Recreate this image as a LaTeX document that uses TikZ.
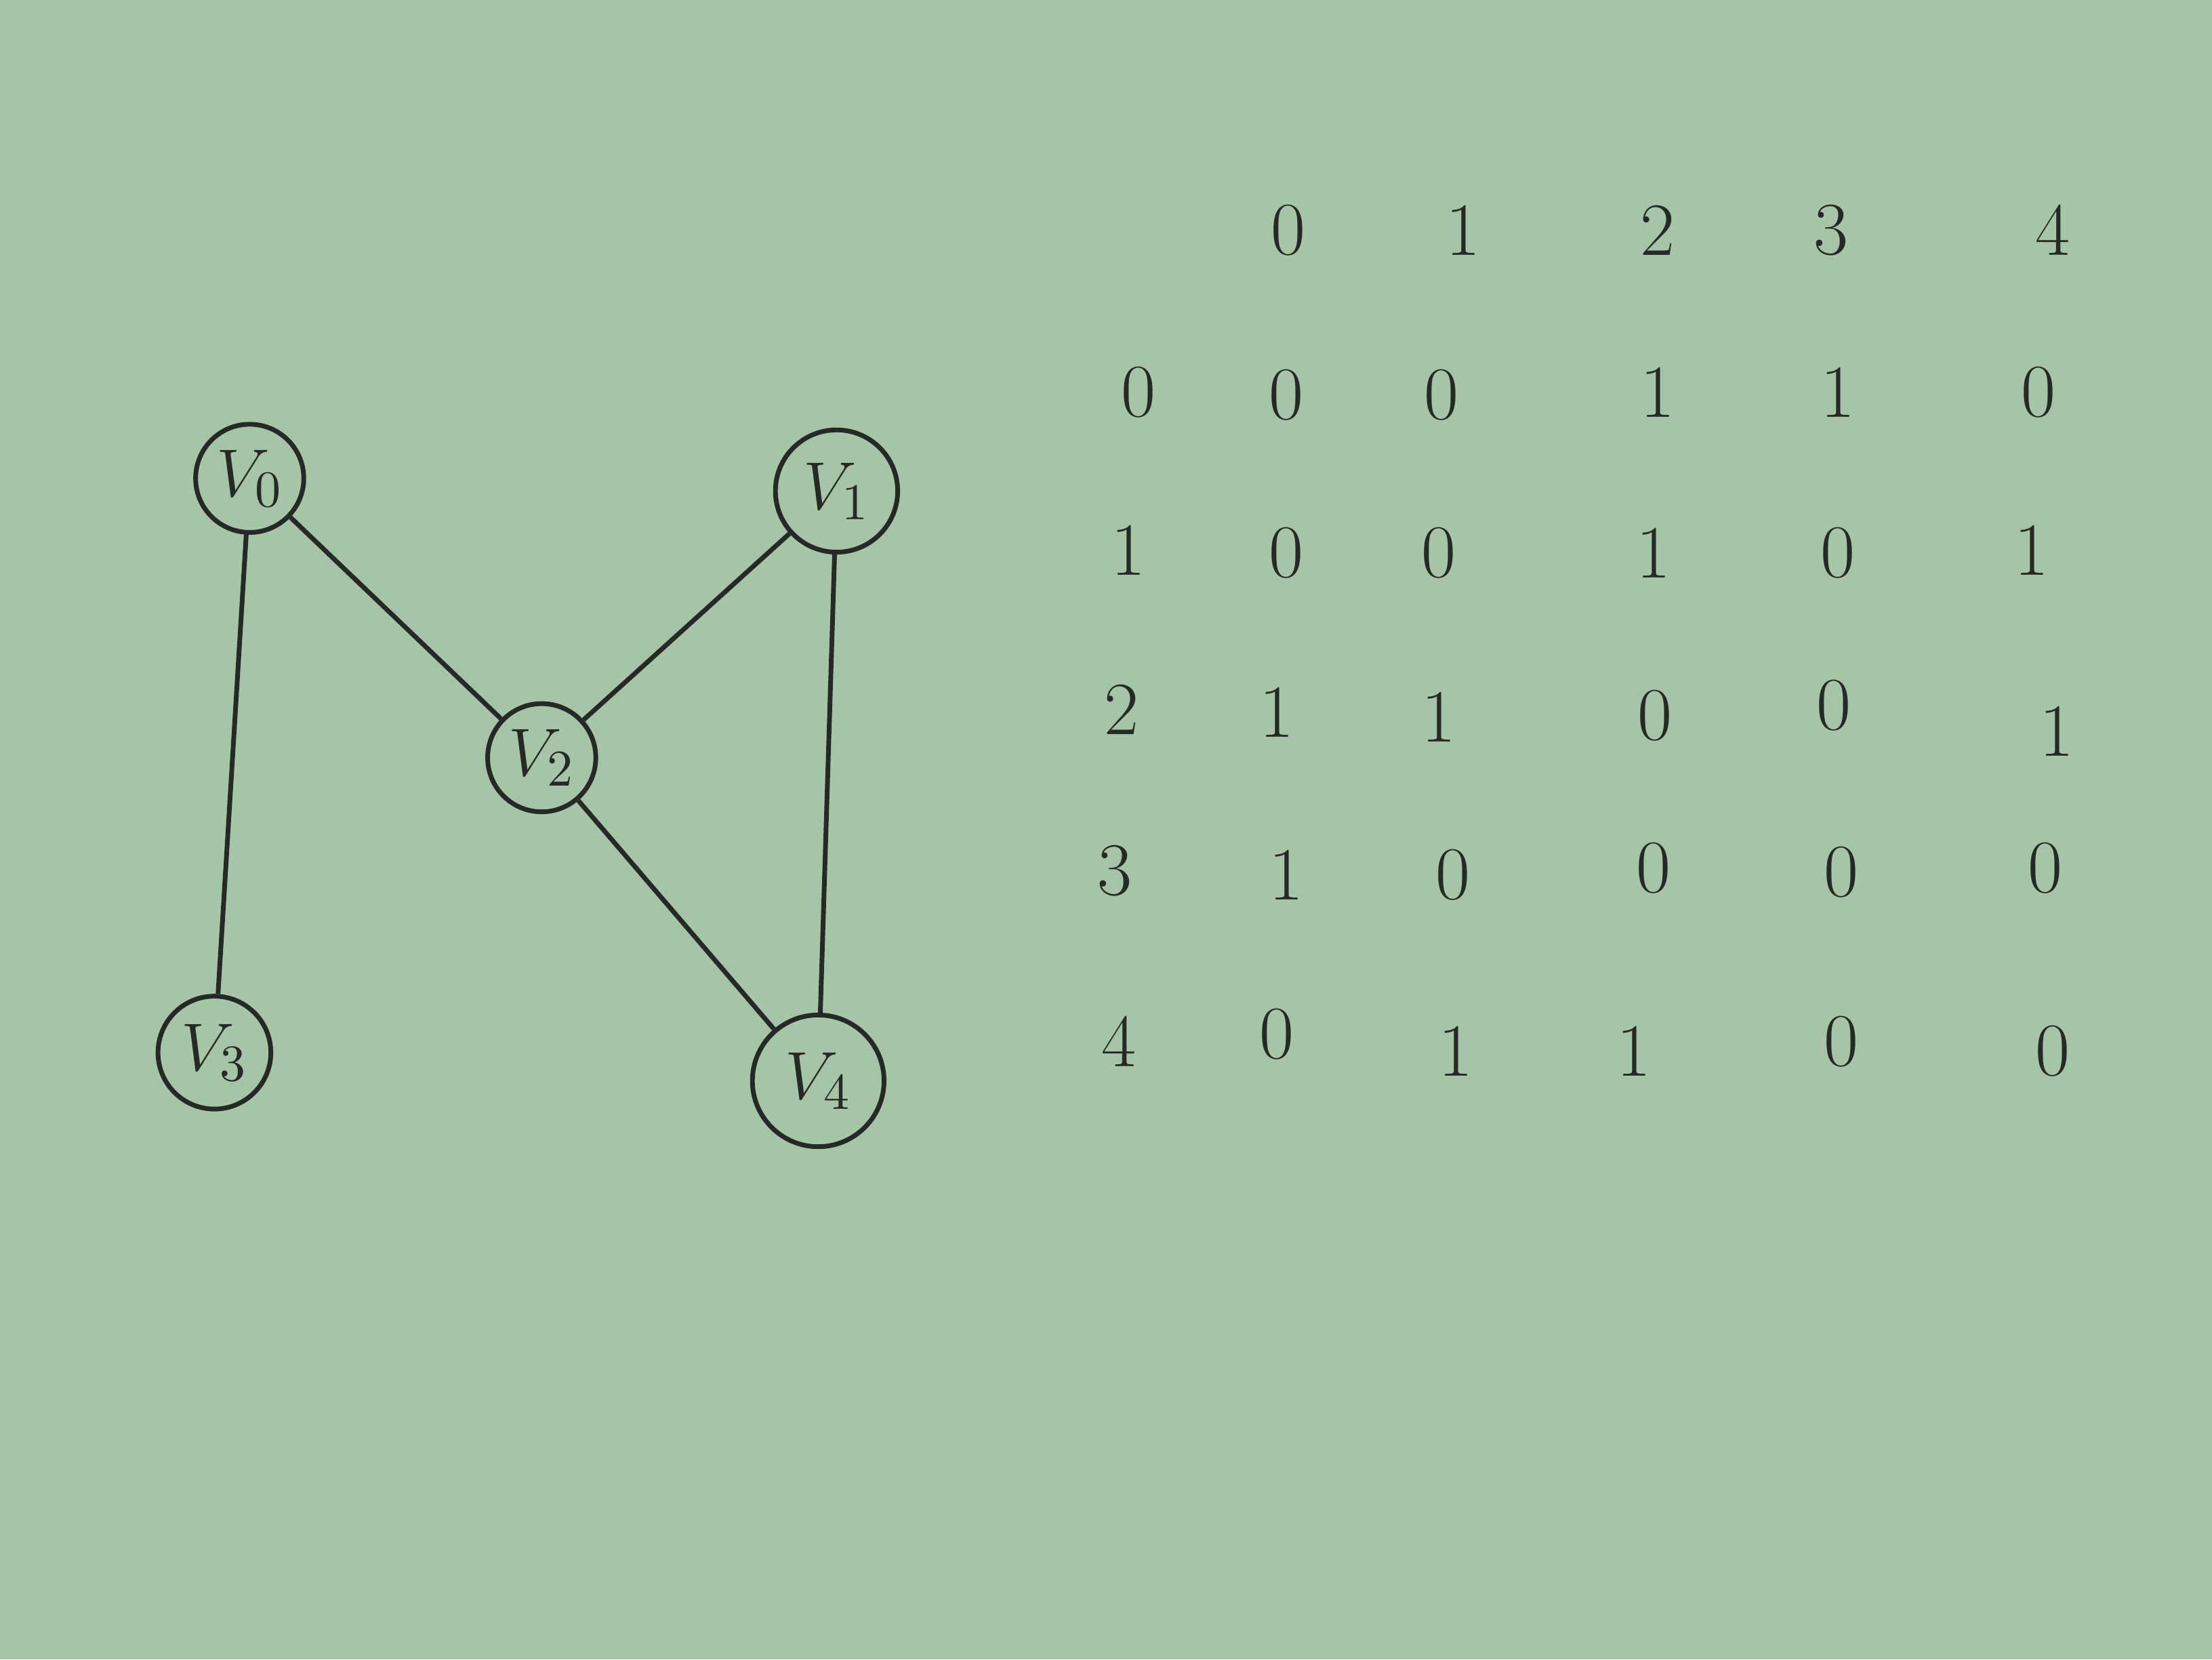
\documentclass[tikz,border=0pt]{standalone}
\usepackage{amsmath,amssymb}
\usepackage{xcolor}
\definecolor{paper}{RGB}{166,196,166}
\definecolor{ink}{RGB}{38,42,38}

\begin{document}
\begin{tikzpicture}[x=0.3pt,y=0.3pt,yscale=-1,
  vert/.style={draw=ink,circle,line width=1pt,inner sep=0pt,text=ink},
  entry/.style={text=ink,font=\fontsize{16}{18}\selectfont}]
%paper
\fill[paper] (0,0) rectangle (1568,1176);
\useasboundingbox (0,0) rectangle (1568,1176);

%Vertices
\node[vert,minimum size=23pt] (v0) at (177,339) {\fontsize{15}{18}\selectfont $V_0$};
\node[vert,minimum size=26pt] (v1) at (593,348) {\fontsize{15}{18}\selectfont $V_1$};
\node[vert,minimum size=23pt] (v2) at (384,537) {\fontsize{15}{18}\selectfont $V_2$};
\node[vert,minimum size=24pt] (v3) at (152,746) {\fontsize{15}{18}\selectfont $V_3$};
\node[vert,minimum size=28pt] (v4) at (580,766) {\fontsize{15}{18}\selectfont $V_4$};

%Edges
\draw[ink,line width=1pt] (v0) -- (v3);
\draw[ink,line width=1pt] (v0) -- (v2);
\draw[ink,line width=1pt] (v2) -- (v1);
\draw[ink,line width=1pt] (v1) -- (v4);
\draw[ink,line width=1pt] (v2) -- (v4);

%Column headers
\node[entry] (c0) at (913,163) {0};
\node[entry] (c1) at (1037,163) {1};
\node[entry] (c2) at (1175,163) {2};
\node[entry] (c3) at (1298,163) {3};
\node[entry] (c4) at (1455,163) {4};

%Row headers
\node[entry] (r0) at (807,278) {0};
\node[entry] (r1) at (800,390) {1};
\node[entry] (r2) at (795,503) {2};
\node[entry] (r3) at (790,617) {3};
\node[entry] (r4) at (793,738) {4};

%Row 0
\node[entry] (m00) at (912,280) {0};
\node[entry] (m01) at (1022,280) {0};
\node[entry] (m02) at (1175,278) {1};
\node[entry] (m03) at (1303,278) {1};
\node[entry] (m04) at (1445,278) {0};

%Row 1
\node[entry] (m10) at (912,392) {0};
\node[entry] (m11) at (1020,392) {0};
\node[entry] (m12) at (1172,392) {1};
\node[entry] (m13) at (1303,392) {0};
\node[entry] (m14) at (1440,390) {1};

%Row 2
\node[entry] (m20) at (905,505) {1};
\node[entry] (m21) at (1020,508) {1};
\node[entry] (m22) at (1173,507) {0};
\node[entry] (m23) at (1300,500) {0};
\node[entry] (m24) at (1458,518) {1};

%Row 3
\node[entry] (m30) at (912,620) {1};
\node[entry] (m31) at (1030,620) {0};
\node[entry] (m32) at (1172,615) {0};
\node[entry] (m33) at (1305,618) {0};
\node[entry] (m34) at (1450,615) {0};

%Row 4
\node[entry] (m40) at (905,733) {0};
\node[entry] (m41) at (1032,745) {1};
\node[entry] (m42) at (1158,745) {1};
\node[entry] (m43) at (1305,738) {0};
\node[entry] (m44) at (1455,745) {0};
\end{tikzpicture}
\end{document}
